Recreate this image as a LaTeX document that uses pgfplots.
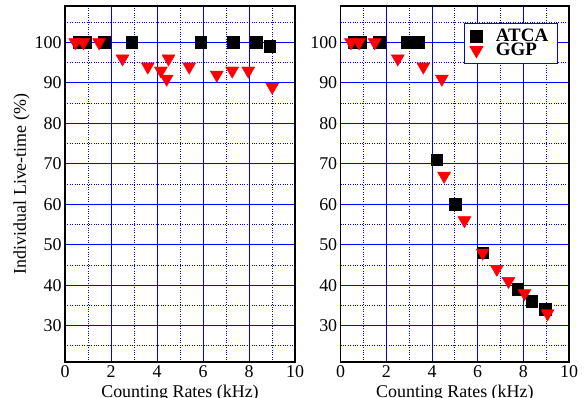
\documentclass[border=0pt]{standalone}
\usepackage{pgfplots}
\pgfplotsset{compat=1.18}
\usepackage{fontspec}
\setmainfont{Liberation Serif}
\pgfplotsset{
  atca/.style={only marks, mark=square*, mark size=5.8bp, mark options={black, fill=black}},
  ggp/.style={only marks, mark=triangle*, mark size=7.5bp, mark options={red, fill=red, rotate=180}},
  myax/.style={
    scale only axis,
    width=230bp, height=356bp,
    xmin=0, xmax=10, ymin=21, ymax=109,
    xtick={0,2,...,10}, minor xtick={1,3,...,9},
    ytick={30,40,...,100}, minor ytick={25,35,...,105},
    grid=both,
    major grid style={blue, line width=1pt},
    minor grid style={blue, dotted, line width=0.8pt},
    axis line style={black, line width=1.3pt},
    tick style={blue, line width=1pt},
    major tick length=3bp, minor tick length=0pt,
    /pgf/number format/assume math mode=true,
    tick label style={font=\fontsize{18}{18}\selectfont},
    label style={font=\fontsize{18}{19}\selectfont},
    xlabel={Counting Rates (kHz)},
    xlabel style={yshift=-1bp},
  }
}
\begin{document}
\begin{tikzpicture}[x=1bp,y=1bp]
\begin{axis}[myax, at={(65bp,36bp)}, anchor=south west,
  ylabel={Individual Live-time (\%)}, ylabel style={yshift=-2bp}]
\addplot[atca] coordinates {(0.6,100) (0.9,100) (1.7,100) (2.9,100) (5.9,100) (7.3,100) (8.3,100) (8.9,99)};
\addplot[ggp] coordinates {(0.45,100) (0.8,100) (1.48,100) (2.5,96) (3.6,94) (4.17,93) (4.42,91) (4.5,96) (5.4,94) (6.6,92) (7.27,93) (7.97,93) (9.01,89)};
\end{axis}
\begin{axis}[myax, at={(340.7bp,36bp)}, anchor=south west, width=228.3bp,
  legend style={at={(0.95,0.953)}, anchor=north east, draw=blue, line width=0.8pt, fill=white,
    nodes={font=\fontsize{19}{19}\selectfont\bfseries, inner xsep=3bp},
    /tikz/every odd column/.append style={column sep=10bp},
    row sep=-4bp, inner xsep=6bp, inner ysep=4bp},
  legend cell align=left]
\addplot[atca] coordinates {(0.6,100) (0.85,100) (1.69,100) (2.92,100) (3.42,100) (4.2,71) (5.01,60) (6.22,48) (7.76,39) (8.36,36) (8.97,34)};
\addlegendentry{ATCA}
\addplot[ggp] coordinates {(0.45,100) (0.8,100) (1.49,100) (2.5,96) (3.62,94) (4.43,91) (4.53,67) (5.42,56) (6.22,48) (6.84,44) (7.35,41) (8.05,38) (9.06,33)};
\addlegendentry{GGP}
\end{axis}
\pgfresetboundingbox
\path[use as bounding box] (0,0) rectangle (587bp,398bp);
\end{tikzpicture}
\end{document}
